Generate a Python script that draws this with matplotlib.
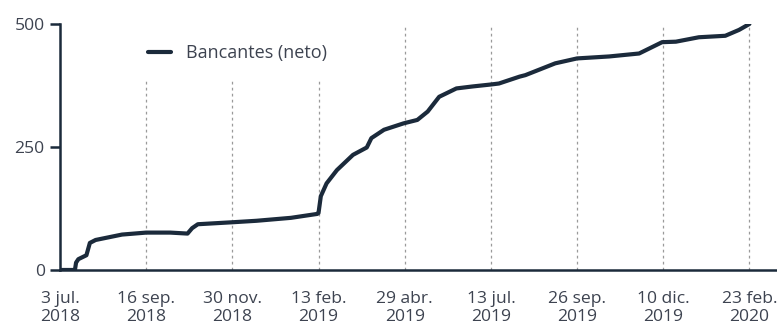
import matplotlib
matplotlib.use("Agg")
import matplotlib.pyplot as plt
import pandas as pd

# cumulative series, read at irregular dates
fechas = ["2018-07-03", "2018-07-16", "2018-07-17", "2018-07-19", "2018-07-26",
          "2018-07-29", "2018-08-03", "2018-08-26", "2018-09-16", "2018-10-07",
          "2018-10-22", "2018-10-26", "2018-10-31", "2018-11-30", "2018-12-21",
          "2019-01-20", "2019-02-12", "2019-02-13", "2019-02-15", "2019-02-20",
          "2019-03-01", "2019-03-15", "2019-03-27", "2019-03-31", "2019-04-11",
          "2019-04-28", "2019-05-10", "2019-05-19", "2019-05-29", "2019-06-13",
          "2019-06-27", "2019-07-13", "2019-07-20", "2019-08-07", "2019-08-12",
          "2019-09-07", "2019-09-26", "2019-10-24", "2019-11-19", "2019-12-09",
          "2019-12-21", "2020-01-10", "2020-02-02", "2020-02-14", "2020-02-23"]
bancantes = [0, 0, 15, 22, 30,
             55, 61, 72, 76, 76,
             74, 85, 93, 97, 100,
             106, 114, 116, 150, 176,
             203, 234, 249, 268, 285,
             298, 305, 322, 352, 369,
             373, 377, 379, 393, 396,
             420, 430, 434, 440, 463,
             464, 473, 476, 488, 500]

tick_fechas = ["2018-07-03", "2018-09-16", "2018-11-30", "2019-02-13", "2019-04-29",
               "2019-07-13", "2019-09-26", "2019-12-10", "2020-02-23"]
tick_textos = ["3 jul.\n2018", "16 sep.\n2018", "30 nov.\n2018", "13 feb.\n2019",
               "29 abr.\n2019", "13 jul.\n2019", "26 sep.\n2019", "10 dic.\n2019",
               "23 feb.\n2020"]
y_ticks = [0, 250, 500]

navy = "#1b2a3b"
gris = "#3d4350"

plt.rcParams['font.family'] = ['Open Sans', 'DejaVu Sans']

x = pd.to_datetime(fechas)
xt = pd.to_datetime(tick_fechas)

fig = plt.figure(figsize=(7.77, 3.24), dpi=100)
ax = fig.add_axes([0.0772, 0.1667, 0.9228, 0.7593])

# dotted guides, the first three stop short under the legend
for i, t in enumerate(xt[1:]):
    top = 385 if i < 3 else 500
    ax.plot([t, t], [0, top], color="#9a9a9a", lw=0.9, ls=(0, (2.2, 2.6)), zorder=1)

ax.plot(x, bancantes, color=navy, lw=3.0, solid_joinstyle="round",
        solid_capstyle="round", zorder=3, label="Bancantes (neto)")

ax.set_ylim(0, 500)
ax.set_xlim(xt[0], xt[0] + pd.Timedelta(days=624))
ax.set_yticks(y_ticks)
ax.set_xticks(xt)
ax.set_xticklabels(tick_textos, linespacing=1.2)

for s in ["top", "right"]:
    ax.spines[s].set_visible(False)
for s in ["left", "bottom"]:
    ax.spines[s].set_color(navy)
    ax.spines[s].set_linewidth(1.8)

ax.tick_params(axis="y", length=7, width=1.8, color=navy, pad=4,
               labelsize=12.6, labelcolor=gris)
ax.tick_params(axis="x", length=0, pad=15, labelsize=12.6, labelcolor=gris)

leg = ax.legend(loc="upper left", bbox_to_anchor=(0.1, 0.985), frameon=False,
                fontsize=13, handlelength=1.3, handletextpad=0.8,
                labelcolor=gris)

fig.savefig("out.png", dpi=100)
